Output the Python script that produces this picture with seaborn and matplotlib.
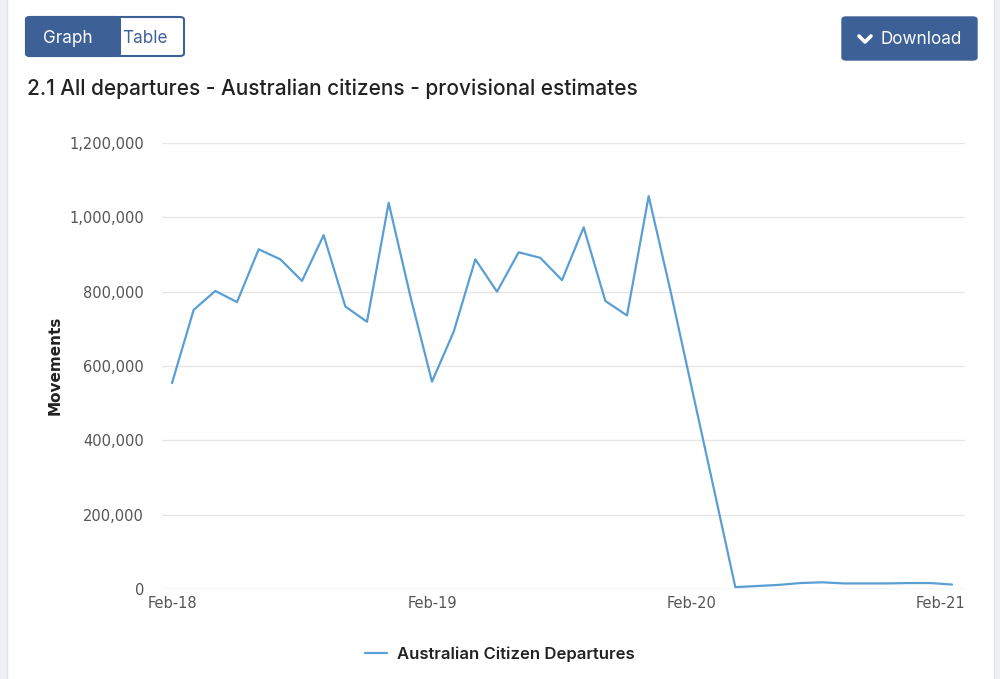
import numpy as np
import pandas as pd
import matplotlib
matplotlib.use("Agg")
import matplotlib.pyplot as plt
import matplotlib.transforms as mtransforms
from matplotlib.patches import FancyBboxPatch, Rectangle
from matplotlib.lines import Line2D
import seaborn as sns

# ---- data ----
departures = [554000, 751000, 802000, 772000, 914000, 887000, 829000, 952000,
              760000, 719000, 1039000, 788000,
              558000, 692000, 887000, 800000, 906000, 891000, 831000, 973000,
              775000, 736000, 1057000, 804000,
              538000, 272000, 5000, 8000, 11000, 16000, 18000, 15000,
              15000, 15000, 16000, 16000, 12000]
tick_positions = [0, 12, 24, 36]
tick_labels = ["Feb-18", "Feb-19", "Feb-20", "Feb-21"]
y_ticks = [0, 200000, 400000, 600000, 800000, 1000000, 1200000]
series_name = "Australian Citizen Departures"
title = "2.1 All departures - Australian citizens - provisional estimates"

df = pd.DataFrame({"month": np.arange(len(departures)), "value": departures})

sns.set_theme(style="white")
plt.rcParams["font.family"] = ["DejaVu Sans"]

W, H = 1000, 679
fig = plt.figure(figsize=(10, 6.79), dpi=100)
fig.patch.set_facecolor("white")

def fx(px):
    return px / W

def fy(py):
    return 1 - py / H

# card side strips
fig.add_artist(Rectangle((0, 0), fx(7), 1, transform=fig.transFigure,
                         facecolor="#eef0f4", edgecolor="none"))
fig.add_artist(Line2D([fx(7), fx(7)], [0, 1], transform=fig.transFigure,
                      color="#dfe3ea", lw=1))
fig.add_artist(Rectangle((fx(994), 0), fx(6), 1, transform=fig.transFigure,
                         facecolor="#eef0f4", edgecolor="none"))
fig.add_artist(Line2D([fx(994), fx(994)], [0, 1], transform=fig.transFigure,
                      color="#dfe3ea", lw=1))

ax = fig.add_axes([fx(162), fy(589), fx(965) - fx(162), (589 - 143) / H])
sns.lineplot(data=df, x="month", y="value", ax=ax, color="#5a9fd4",
             linewidth=1.6, label=series_name, legend=False)

ax.set_xlim(-10 / 21.667, 36 + 13 / 21.667)
ax.set_ylim(0, 1200000)
ax.set_yticks(y_ticks)
ax.set_yticklabels([f"{v:,}" for v in y_ticks])
ax.set_xticks(tick_positions)
ax.set_xticklabels(tick_labels)
ax.tick_params(axis="y", length=0, pad=13, labelsize=10.5, labelcolor="#555555")
ax.tick_params(axis="x", length=0, pad=5, labelsize=10.5, labelcolor="#555555")
for lab in ax.get_yticklabels() + ax.get_xticklabels():
    lab.set_fontfamily("DejaVu Sans")
# shift last x label left (justified inside plot)
last = ax.get_xticklabels()[-1]
last.set_transform(last.get_transform() + mtransforms.ScaledTranslation(-12 / 100, 0, fig.dpi_scale_trans))

ax.set_xlabel("")
ax.set_ylabel("")
for s in ax.spines.values():
    s.set_visible(False)
ax.grid(False)
for v in y_ticks[1:]:
    ax.axhline(v, color="#e6e6e6", lw=1, zorder=0)
ax.axhline(0, color="#ccd6eb", lw=1, zorder=0)

fig.text(fx(55), fy(365), "Movements", rotation=90, ha="center", va="center",
         fontsize=11, fontweight="bold", color="#222222", family="DejaVu Sans")

# title
fig.text(fx(27), fy(89), title, ha="left", va="center", fontsize=15,
         color="#222222", family="Inter", fontweight="medium")

# buttons
btn_blue = "#3d6196"
fig.add_artist(FancyBboxPatch((fx(26), fy(56)), fx(158), (56 - 17) / H,
                              boxstyle="round,pad=0,rounding_size=0.004",
                              transform=fig.transFigure, facecolor="white",
                              edgecolor=btn_blue, lw=1.5))
fig.add_artist(FancyBboxPatch((fx(26), fy(56)), fx(94), (56 - 17) / H,
                              boxstyle="round,pad=0,rounding_size=0.004",
                              transform=fig.transFigure, facecolor=btn_blue,
                              edgecolor=btn_blue, lw=1.5))
fig.text(fx(68), fy(38.5), "Graph", ha="center", va="center", fontsize=12.3,
         color="white", family="Inter")
fig.text(fx(145), fy(38.5), "Table", ha="center", va="center", fontsize=12.3,
         color=btn_blue, family="Inter")

fig.add_artist(FancyBboxPatch((fx(842), fy(60)), fx(135), (60 - 17) / H,
                              boxstyle="round,pad=0,rounding_size=0.004",
                              transform=fig.transFigure, facecolor=btn_blue,
                              edgecolor=btn_blue, lw=1))
fig.add_artist(Line2D([fx(859), fx(865), fx(871)], [fy(36), fy(42), fy(36)],
                      transform=fig.transFigure, color="white", lw=2.6,
                      solid_capstyle="round", solid_joinstyle="round"))
fig.text(fx(921), fy(40), "Download", ha="center", va="center", fontsize=12.3,
         color="white", family="Inter")

# legend
handles, labels = ax.get_legend_handles_labels()
leg = fig.legend(handles, labels, loc="center", bbox_to_anchor=(0.5, fy(654)),
                 frameon=False, handlelength=1.3, handletextpad=0.6,
                 prop={"family": "Inter", "size": 12, "weight": "semibold"})
for t in leg.get_texts():
    t.set_color("#222222")

fig.savefig("out.png", dpi=100, facecolor="white")
